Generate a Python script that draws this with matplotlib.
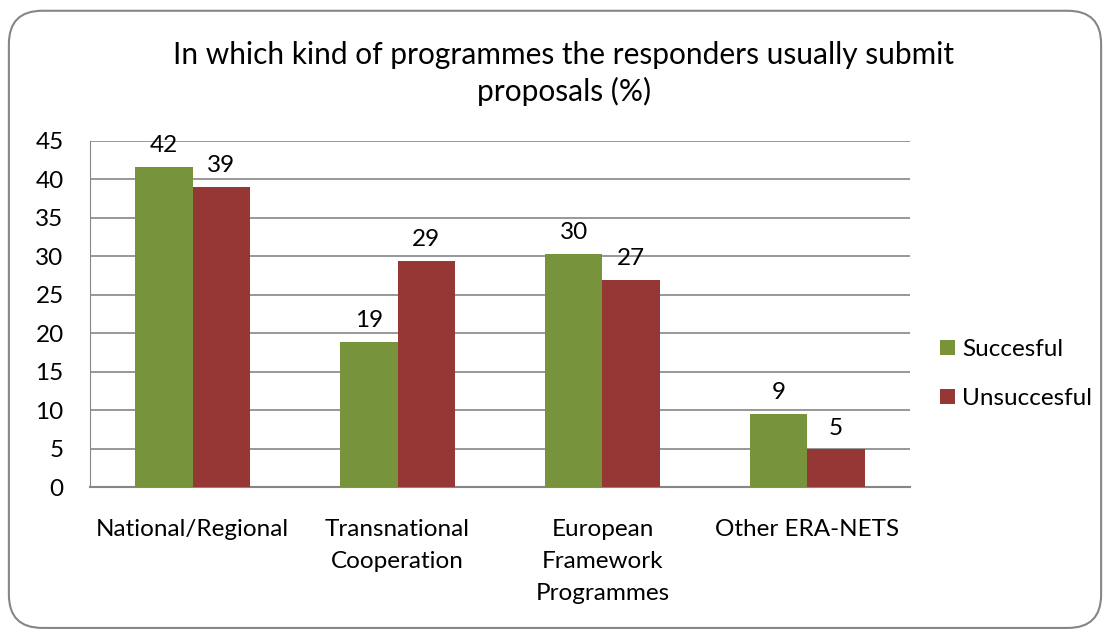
import matplotlib.pyplot as plt
import numpy as np
from matplotlib.patches import FancyBboxPatch

categories = ['National/Regional', 'Transnational\nCooperation',
              'European\nFramework\nProgrammes', 'Other ERA-NETS']
succesful = [41.6, 18.9, 30.3, 9.5]
unsuccesful = [39.0, 29.4, 26.9, 4.9]
succ_labels = ['42', '19', '30', '9']
unsucc_labels = ['39', '29', '27', '5']

plt.rcParams['font.family'] = ['Lato', 'DejaVu Sans']

fig = plt.figure(figsize=(11.1, 6.33), dpi=100)
frame = FancyBboxPatch((0.008, 0.008), 0.984, 0.975,
                       boxstyle='round,pad=0,rounding_size=0.03',
                       transform=fig.transFigure, facecolor='white',
                       edgecolor='#868686', linewidth=1.5,
                       mutation_aspect=1110 / 633, zorder=-1)
fig.patches.append(frame)

ax = fig.add_axes([0.0811, 0.2306, 0.7387, 0.5467])
ax.patch.set_alpha(0)
x = np.arange(len(categories))
w = 0.28
ax.bar(x - w / 2, succesful, w, color='#77933c', label='Succesful', zorder=3)
ax.bar(x + w / 2, unsuccesful, w, color='#953735', label='Unsuccesful', zorder=3)

fs = 17.5
for i in range(len(categories)):
    ax.text(x[i] - w / 2, succesful[i] + 1.4, succ_labels[i], ha='center', va='bottom', fontsize=fs)
    ax.text(x[i] + w / 2, unsuccesful[i] + 1.4, unsucc_labels[i], ha='center', va='bottom', fontsize=fs)

ax.set_xlim(-0.5, 3.5)
ax.set_ylim(0, 45)
ax.set_yticks(range(0, 46, 5))
ax.yaxis.grid(True, color='#868686', linewidth=1.2, zorder=0)
ax.set_xticks(x)
ax.set_xticklabels(categories, fontsize=fs, linespacing=1.65, va='top')
ax.tick_params(axis='both', length=0, labelsize=fs)
ax.tick_params(axis='x', pad=23)
ax.tick_params(axis='y', pad=19)
for s in ['top', 'right']:
    ax.spines[s].set_visible(False)
ax.spines['left'].set_color('#868686')
ax.spines['bottom'].set_color('#868686')
ax.spines['bottom'].set_linewidth(1.5)

fig.text(0.508, 0.884, 'In which kind of programmes the responders usually submit\nproposals (%)',
         ha='center', va='center', fontsize=21.5, linespacing=1.35)

ax.legend(loc='center left', bbox_to_anchor=(1.01, 0.327), frameon=False,
          fontsize=fs, handlelength=0.6, handleheight=0.6, handletextpad=0.3,
          labelspacing=1.15)

fig.savefig('out.png', dpi=100)
